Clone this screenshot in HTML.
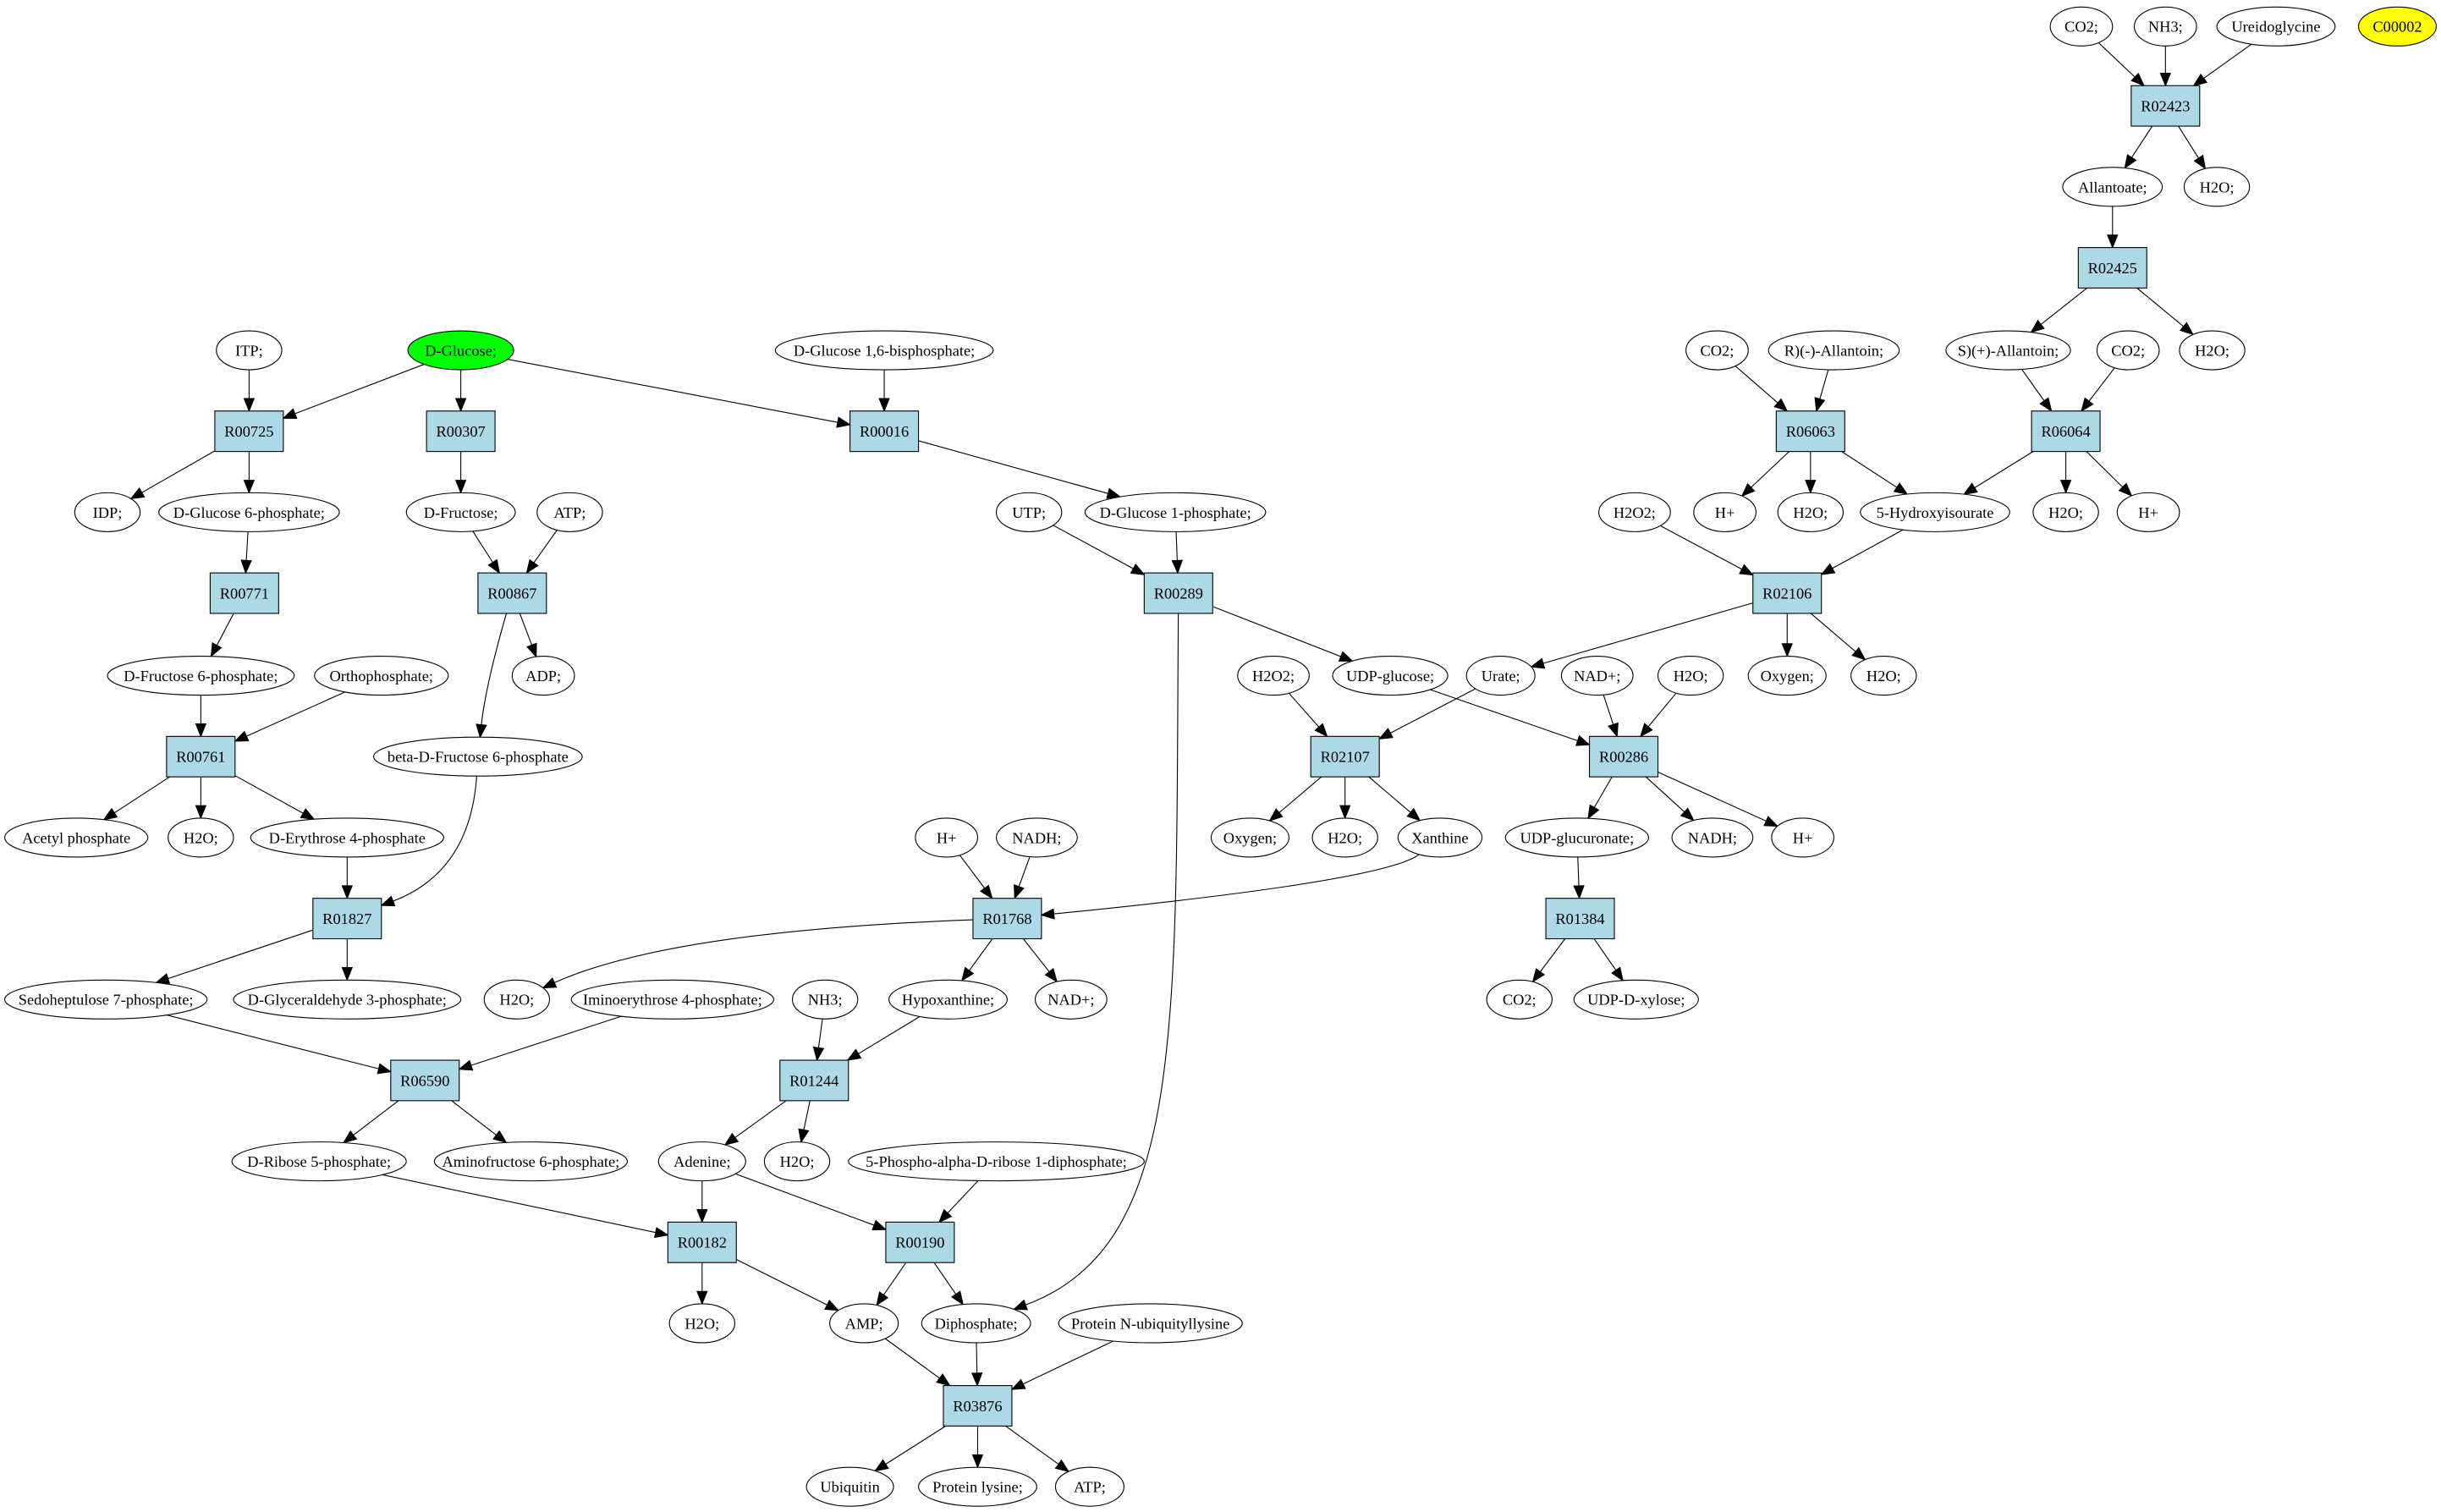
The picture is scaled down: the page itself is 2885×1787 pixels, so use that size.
<!DOCTYPE html>
<html><head><meta charset="utf-8">
<style>html,body{margin:0;padding:0;background:#fff}svg{display:block}text{font-family:"Liberation Serif","DejaVu Serif",serif;font-size:10px}</style>
</head><body>
<svg id="s" xmlns="http://www.w3.org/2000/svg" width="2885" height="1787" viewBox="0 0 1568 971.2"></svg>
<script>
var N={};
function E(id,x,y,rx,label,fill){N[id]={t:'e',x:x,y:y,rx:rx,ry:12.5,l:label,f:fill||'#fff'};}
function B(id,x,y){N[id]={t:'b',x:x,y:y,l:id,f:'#add8e6'};}
E('co2a',1337,17,20,'CO2;');E('nh3a',1391,17,20,'NH3;');E('ureid',1462,17,38,'Ureidoglycine');E('c2',1540,17,25,'C00002','#ffff00');
B('R02423',1391,68);
E('allant',1357,120,32,'Allantoate;');E('h2oa',1424,120,21,'H2O;');
B('R02425',1357,172);
E('itp',160,225,21,'ITP;');E('glc',296,225,34,'D-Glucose;','#00ff00');E('g16',568,225,70,'D-Glucose 1,6-bisphosphate;');
E('co2b',1103,225,20,'CO2;');E('rall',1178,225,42,'R)(-)-Allantoin;');E('sall',1290,225,40,'S)(+)-Allantoin;');E('co2c',1367,225,20,'CO2;');E('h2ob',1421,225,21,'H2O;');
B('R00725',160,277);B('R00307',296,277);B('R00016',568,277);B('R06063',1163,277);B('R06064',1327,277);
E('idp',69,329,21,'IDP;');E('g6p',160,329,58,'D-Glucose 6-phosphate;');E('fru',296,329,35,'D-Fructose;');E('atp1',366,329,21,'ATP;');
E('utp',661,329,21,'UTP;');E('g1p',755,329,58,'D-Glucose 1-phosphate;');E('h2o2a',1050,329,23,'H2O2;');E('hp1',1108,329,20,'H+');
E('h2oc',1163,329,21,'H2O;');E('hiu',1243,329,48,'5-Hydroxyisourate');E('h2od',1327,329,21,'H2O;');E('hp2',1380,329,20,'H+');
B('R00771',157,381);B('R00867',329,381);B('R00289',757,381);B('R02106',1148,381);
E('f6p',129,434,60,'D-Fructose 6-phosphate;');E('orth',245,434,43,'Orthophosphate;');E('adp',349,434,20,'ADP;');
E('h2o2b',818,434,23,'H2O2;');E('udpg',893,434,37,'UDP-glucose;');E('urate',964,434,22,'Urate;');E('nad1',1026,434,23,'NAD+;');
E('h2oe',1086,434,21,'H2O;');E('oxy1',1148,434,25,'Oxygen;');E('h2of',1210,434,21,'H2O;');
B('R00761',129,486);E('bf6p',307,486,67,'beta-D-Fructose 6-phosphate');B('R02107',864,486);B('R00286',1043,486);
E('acp',49,538,46,'Acetyl phosphate');E('h2og',129,538,21,'H2O;');E('e4p',223,538,62,'D-Erythrose 4-phosphate');
E('hp3',608,538,20,'H+');E('nadh1',666,538,26,'NADH;');E('oxy2',803,538,25,'Oxygen;');E('h2oh',864,538,21,'H2O;');
E('xan',925,538,27,'Xanthine');E('udpga',1013,538,46,'UDP-glucuronate;');E('nadh2',1100,538,26,'NADH;');E('hp4',1158,538,20,'H+');
B('R01827',223,590);B('R01768',647,590);B('R01384',1015,590);
E('s7p',68,642,65,'Sedoheptulose 7-phosphate;');E('gap',223,642,73,'D-Glyceraldehyde 3-phosphate;');E('h2oi',332,642,21,'H2O;');
E('imino',432,642,65,'Iminoerythrose 4-phosphate;');E('nh3b',530,642,21,'NH3;');E('hyp',609,642,38,'Hypoxanthine;');
E('nad2',688,642,23,'NAD+;');E('co2d',976,642,21,'CO2;');E('xyl',1051,642,40,'UDP-D-xylose;');
B('R06590',273,694);B('R01244',523,694);
E('r5p',205,746,56,'D-Ribose 5-phosphate;');E('amf',341,746,62,'Aminofructose 6-phosphate;');E('ade',451,746,28,'Adenine;');
E('h2oj',512,746,21,'H2O;');E('prpp',640,746,95,'5-Phospho-alpha-D-ribose 1-diphosphate;');
B('R00182',451,798);B('R00190',591,798);
E('h2ok',451,850,21,'H2O;');E('amp',555,850,22,'AMP;');E('dip',627,850,35,'Diphosphate;');E('pnu',739,850,59,'Protein N-ubiquityllysine');
B('R03876',628,903);
E('ubq',546,955,28,'Ubiquitin');E('plys',628,955,38,'Protein lysine;');E('atp2',700,955,22,'ATP;');

var ED=[
['co2a','R02423'],['nh3a','R02423'],['ureid','R02423'],['R02423','allant'],['R02423','h2oa'],['allant','R02425'],['R02425','sall'],['R02425','h2ob'],
['co2b','R06063'],['rall','R06063'],['R06063','hp1'],['R06063','h2oc'],['R06063','hiu'],
['sall','R06064'],['co2c','R06064'],['R06064','hiu'],['R06064','h2od'],['R06064','hp2'],
['h2o2a','R02106'],['hiu','R02106'],['R02106','urate'],['R02106','oxy1'],['R02106','h2of'],
['itp','R00725'],['glc','R00725'],['glc','R00307'],['glc','R00016'],['g16','R00016'],
['R00725','idp'],['R00725','g6p'],['g6p','R00771'],['R00771','f6p'],['f6p','R00761'],['orth','R00761'],
['R00761','acp'],['R00761','h2og'],['R00761','e4p'],
['R00307','fru'],['fru','R00867'],['atp1','R00867'],['R00867','adp'],['R00867','bf6p',[[312,440]]],
['bf6p','R01827',[[302,560]]],['e4p','R01827'],['R01827','s7p'],['R01827','gap'],
['R00016','g1p'],['utp','R00289'],['g1p','R00289'],['R00289','udpg'],['R00289','dip',[[755,660],[762,800]]],
['h2o2b','R02107'],['urate','R02107'],['R02107','oxy2'],['R02107','h2oh'],['R02107','xan'],
['udpg','R00286'],['nad1','R00286'],['h2oe','R00286'],['R00286','udpga'],['R00286','nadh2'],['R00286','hp4'],
['udpga','R01384'],['R01384','co2d'],['R01384','xyl'],
['hp3','R01768'],['nadh1','R01768'],['xan','R01768',[[890,566]]],['R01768','h2oi',[[430,598]]],['R01768','hyp'],['R01768','nad2'],
['s7p','R06590'],['imino','R06590'],['R06590','r5p'],['R06590','amf'],
['nh3b','R01244'],['hyp','R01244'],['R01244','ade'],['R01244','h2oj'],
['r5p','R00182'],['ade','R00182'],['R00182','h2ok'],['R00182','amp'],
['ade','R00190'],['prpp','R00190'],['R00190','amp'],['R00190','dip'],
['amp','R03876'],['dip','R03876'],['pnu','R03876'],['R03876','ubq'],['R03876','plys'],['R03876','atp2']
];
function clip(n,tx,ty){var dx=tx-n.x,dy=ty-n.y,t;
 if(n.t=='e'){t=1/Math.sqrt((dx/n.rx)*(dx/n.rx)+(dy/n.ry)*(dy/n.ry));}
 else{t=Math.min(22/Math.abs(dx||1e-9),13/Math.abs(dy||1e-9));}
 return [n.x+dx*t,n.y+dy*t];}
var h='';
ED.forEach(function(e){var a=N[e[0]],b=N[e[1]],c=e[2]||[];
 var fa=c.length?c[0]:[b.x,b.y],fb=c.length?c[c.length-1]:[a.x,a.y];
 var p=clip(a,fa[0],fa[1]),q=clip(b,fb[0],fb[1]);
 var dx=q[0]-fb[0],dy=q[1]-fb[1];if(!c.length){dx=q[0]-p[0];dy=q[1]-p[1];}
 var L=Math.sqrt(dx*dx+dy*dy),ux=dx/L,uy=dy/L,al=8,aw=3.2;
 var bx=q[0]-ux*al,by=q[1]-uy*al;
 var d='M'+p[0].toFixed(1)+','+p[1].toFixed(1);
 if(c.length==1)d+=' Q'+c[0][0]+','+c[0][1]+' '+bx.toFixed(1)+','+by.toFixed(1);
 else if(c.length==2)d+=' C'+c[0][0]+','+c[0][1]+' '+c[1][0]+','+c[1][1]+' '+bx.toFixed(1)+','+by.toFixed(1);
 else d+=' L'+bx.toFixed(1)+','+by.toFixed(1);
 h+='<path d="'+d+'" fill="none" stroke="#000" stroke-width="0.6"/>';
 h+='<polygon points="'+q[0].toFixed(1)+','+q[1].toFixed(1)+' '+(bx-uy*aw).toFixed(1)+','+(by+ux*aw).toFixed(1)+' '+(bx+uy*aw).toFixed(1)+','+(by-ux*aw).toFixed(1)+'" fill="#000" stroke="#000" stroke-width="0.6"/>';
});
for(var k in N){var n=N[k];
 if(n.t=='e')h+='<ellipse cx="'+n.x+'" cy="'+n.y+'" rx="'+n.rx+'" ry="'+n.ry+'" fill="'+n.f+'" stroke="#000" stroke-width="0.6"/>';
 else h+='<rect x="'+(n.x-22)+'" y="'+(n.y-13)+'" width="44" height="26" fill="'+n.f+'" stroke="#000" stroke-width="0.6"/>';
 h+='<text x="'+n.x+'" y="'+(n.y+3.5)+'" text-anchor="middle">'+n.l+'</text>';
}
document.getElementById('s').innerHTML=h;
</script>
</body></html>
